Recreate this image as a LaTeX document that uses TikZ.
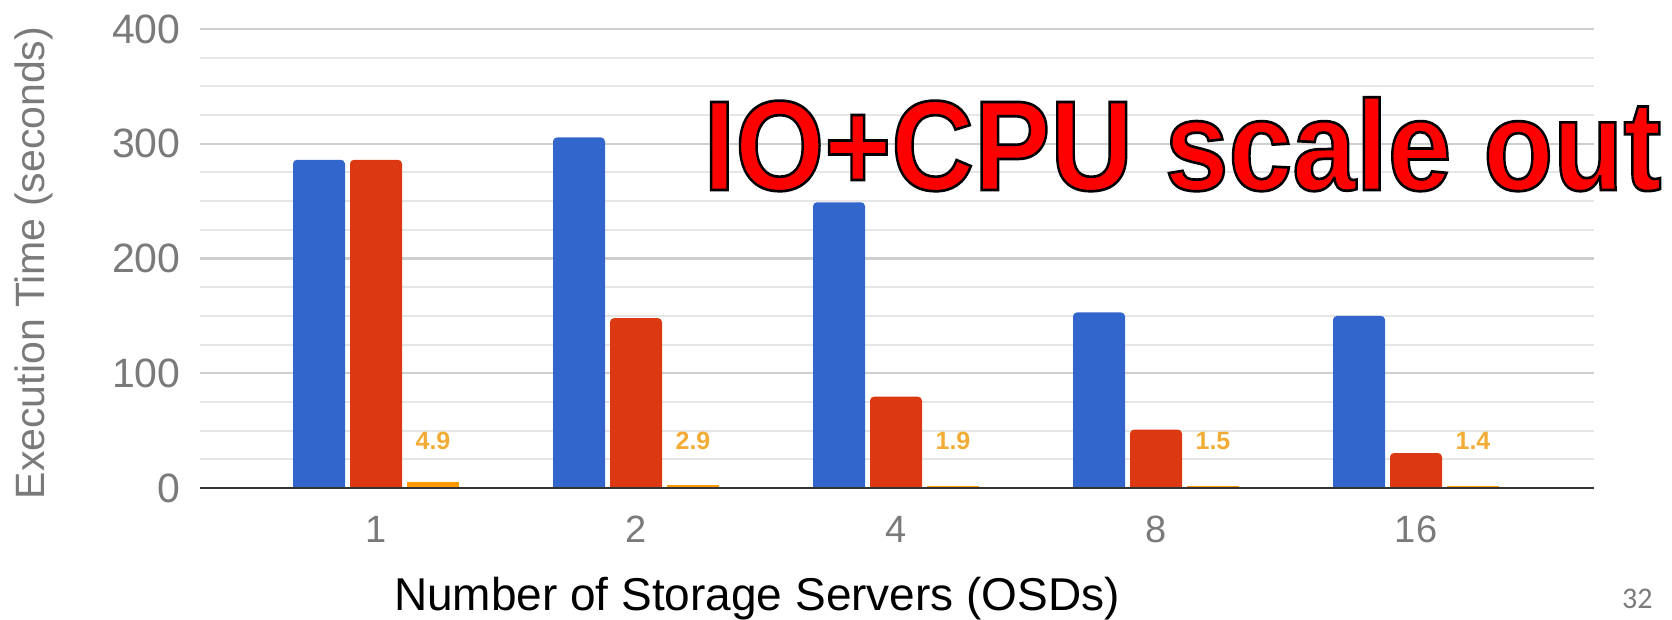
\documentclass[tikz,border=0pt]{standalone}
\usepackage{fontspec}
\setmainfont{Liberation Sans}
\newfontfamily\carlito{Carlito}
\newfontfamily\titlefont{Liberation Sans Bold}[FakeBold=2.1]
\definecolor{gblue}{HTML}{3366CC}
\definecolor{gred}{HTML}{DC3912}
\definecolor{gorange}{HTML}{FF9900}
\definecolor{glabel}{HTML}{F2AC35}
\definecolor{gtext}{HTML}{7A7A7A}
\definecolor{gmajor}{HTML}{CFCFCF}
\definecolor{gminor}{HTML}{E6E6E6}
\definecolor{titlered}{HTML}{FF0000}
\tikzset{
  minorline/.style={gminor, line width=1pt},
  majorline/.style={gmajor, line width=1.2pt},
  axisline/.style={black!80, line width=1.4pt},
  bar/.style={rounded corners=2pt},
  yticklabel/.style={text=gtext, font=\fontsize{20.5}{20.5}\selectfont, inner sep=0pt},
  xticklabel/.style={text=gtext, font=\fontsize{19}{19}\selectfont, inner sep=0pt},
  annot/.style={text=glabel, font=\bfseries\fontsize{12.5}{12.5}\selectfont, inner sep=0pt},
  titletext/.style={font=\titlefont\fontsize{64}{64}\selectfont, inner sep=0pt, anchor=base west},
}
\newcommand{\titlestr}{\special{pdf:literal 0 0 0 RG}\scalebox{0.895}[1]{IO+CPU scale out}}
\begin{document}
\begin{tikzpicture}[x=0.5pt,y=-0.5pt]
\useasboundingbox (0,0) rectangle (1672,620);
\begin{scope}[shift={(0,488)}, y=0.57375pt]
  \foreach \v in {25,50,75,125,150,175,225,250,275,325,350,375}
    \draw[minorline] (200,\v) -- (1594,\v);
  \foreach \v in {100,200,300,400}
    \draw[majorline] (200,\v) -- (1594,\v);
  \foreach \i/\b/\r/\o in {0/286/286/4.9, 1/305.5/148/2.9, 2/249/79.6/1.9, 3/153/50.8/1.5, 4/150/30.5/1.4}{
    \pgfmathsetmacro{\c}{376+260*\i}
    \fill[gblue, bar] (\c-83,0) -- (\c-83,\b) -- (\c-31,\b) -- (\c-31,0);
    \fill[gred, bar] (\c-26,0) -- (\c-26,\r) -- (\c+26,\r) -- (\c+26,0);
    \fill[gorange] (\c+31,0) rectangle (\c+83,\o);
    \node[annot] (ann\i) at (\c+57,41) {\o};
  }
  \draw[axisline] (200,0) -- (1594,0);
  \foreach \v in {0,100,200,300,400}
    \node[yticklabel, anchor=east] (yt\v) at (181,\v) {\v};
\end{scope}
\foreach \i/\t in {0/1,1/2,2/4,3/8,4/16}
  \node[xticklabel] (xt\i) at ({376+260*\i},529) {\t};
\node[text=gtext, font=\fontsize{20.5}{20.5}\selectfont, rotate=90, anchor=base, inner sep=0pt] (ytitle) at (45,263) {Execution Time (seconds)};
\node[text=black, font=\fontsize{23}{23}\selectfont, anchor=base, inner sep=0pt] (xtitle) at (757,610) {Number of Storage Servers (OSDs)};
\node[text=gtext, font=\carlito\fontsize{15}{15}\selectfont, anchor=base east, inner sep=0pt] (page) at (1653,608) {32};
\node[titletext, text=titlered] (title) at (703,190) {\titlestr};
\end{tikzpicture}
\end{document}
